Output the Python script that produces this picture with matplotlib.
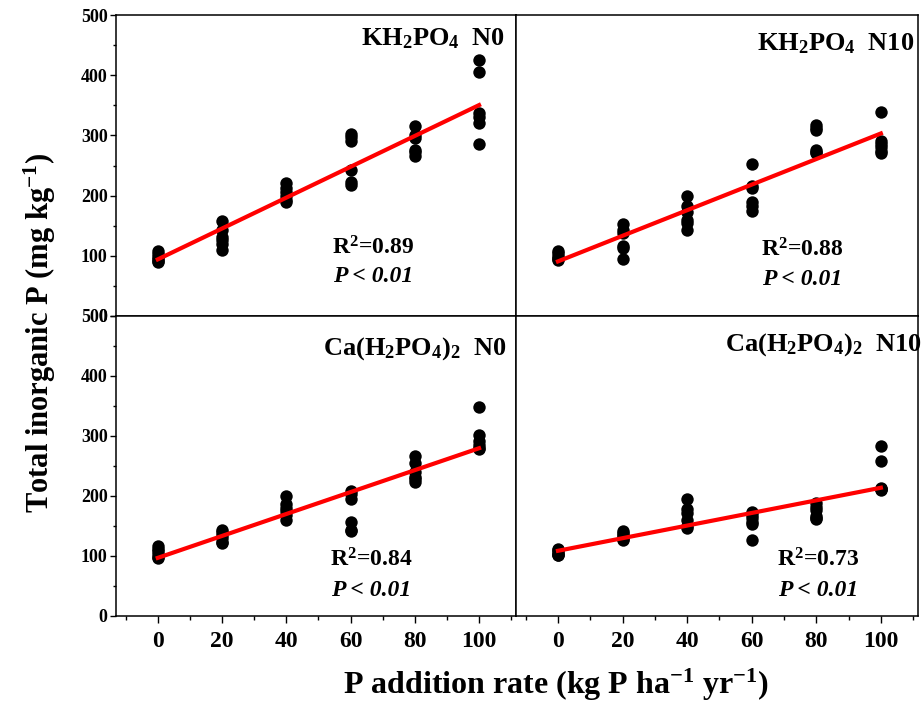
import numpy as np
import matplotlib
matplotlib.use("Agg")
import matplotlib.pyplot as plt
from matplotlib.ticker import MultipleLocator

plt.rcParams['font.family'] = ['Liberation Serif', 'DejaVu Serif']
plt.rcParams['font.weight'] = 'bold'
plt.rcParams['mathtext.fontset'] = 'custom'
plt.rcParams['mathtext.rm'] = 'Liberation Serif:bold'
plt.rcParams['mathtext.bf'] = 'Liberation Serif:bold'
plt.rcParams['mathtext.it'] = 'Liberation Serif:bold:italic'
plt.rcParams['mathtext.default'] = 'rm'

# P addition rates (kg P / ha / yr), 6 replicates each
rates = [0, 20, 40, 60, 80, 100]

kh_n0 = [
    [108, 103, 98, 95, 91, 90],
    [158, 143, 131, 126, 120, 110],
    [221, 213, 206, 199, 193, 190],
    [302, 298, 291, 243, 222, 218],
    [316, 300, 295, 276, 272, 265],
    [426, 405, 338, 330, 321, 286],
]
kh_n10 = [
    [108, 104, 100, 97, 95, 93],
    [152, 143, 138, 116, 113, 95],
    [200, 183, 172, 160, 155, 143],
    [252, 216, 212, 190, 182, 175],
    [317, 313, 309, 276, 273, 271],
    [339, 290, 285, 280, 274, 270],
]
ca_n0 = [
    [117, 112, 108, 104, 99, 96],
    [144, 140, 135, 130, 124, 121],
    [200, 187, 180, 175, 168, 160],
    [208, 203, 195, 156, 143, 142],
    [266, 255, 240, 232, 228, 224],
    [348, 302, 292, 285, 280, 278],
]
ca_n10 = [
    [112, 110, 106, 104, 102, 101],
    [142, 139, 135, 131, 128, 126],
    [195, 178, 172, 160, 150, 146],
    [174, 168, 163, 157, 153, 126],
    [188, 182, 176, 167, 164, 162],
    [283, 258, 213, 212, 211, 210],
]

titles = [r"KH$_2$PO$_4$  N0", r"KH$_2$PO$_4$  N10",
          r"Ca(H$_2$PO$_4$)$_2$  N0", r"Ca(H$_2$PO$_4$)$_2$  N10"]
r2_labels = ["0.89", "0.88", "0.84", "0.73"]
panels = [kh_n0, kh_n10, ca_n0, ca_n10]

W, H = 923, 706
fig = plt.figure(figsize=(W / 100, H / 100), dpi=100)

# axes boxes in pixels: left, top, right, bottom
boxes = [(116, 15, 516, 316), (516, 15, 918, 316),
         (116, 316, 516, 616), (516, 316, 918, 616)]
# text placements in data coords
title_pos = [(108, 450), (110.5, 442), (108.5, 435), (112.5, 443)]
stat_pos = [(67, 113, 65), (75.5, 110, 60), (66.5, 93, 43), (80.5, 93, 43)]

for i, (data, box) in enumerate(zip(panels, boxes)):
    l, t, r, b = box
    ax = fig.add_axes([l / W, (H - b) / H, (r - l) / W, (b - t) / H])
    xs = np.repeat(rates, [len(g) for g in data])
    ys = np.concatenate(data)
    ax.scatter(xs, ys, s=80, color='black', zorder=3, linewidths=0)
    k, c = np.polyfit(xs, ys, 1)
    xl = np.array([rates[0], rates[-1]])
    ax.plot(xl, k * xl + c, color='red', lw=3.0, zorder=4)

    ax.set_xlim(-13, 111.5)
    ax.set_ylim(0, 500)
    ax.xaxis.set_major_locator(MultipleLocator(20))
    ax.xaxis.set_minor_locator(MultipleLocator(10))
    ax.yaxis.set_major_locator(MultipleLocator(100))
    ax.yaxis.set_minor_locator(MultipleLocator(50))
    ax.tick_params(axis='y', which='major', length=4, width=1, labelsize=13, pad=2)
    ax.tick_params(axis='y', which='minor', length=2.5, width=1)
    ax.tick_params(axis='x', which='major', length=5, width=1, labelsize=17, pad=6)
    ax.tick_params(axis='x', which='minor', length=3, width=1)
    for s in ax.spines.values():
        s.set_linewidth(1.1)
    if i % 2 == 1:
        ax.tick_params(axis='y', which='both', left=False, labelleft=False)
    if i < 2:
        ax.tick_params(axis='x', which='both', bottom=False, labelbottom=False)
    for lab in ax.get_xticklabels() + ax.get_yticklabels():
        lab.set_fontweight('bold')

    tx, ty = title_pos[i]
    ax.text(tx, ty, titles[i], fontsize=19, ha='right', va='baseline')
    sx, sy1, sy2 = stat_pos[i]
    ax.text(sx, sy1, "R$^2$=" + r2_labels[i], fontsize=17, ha='center', va='center')
    ax.text(sx, sy2, "P < 0.01", fontsize=17, ha='center', va='center',
            fontstyle='italic', fontweight='bold')

fig.text(40 / W, (H - 333) / H, "Total inorganic P (mg kg$^{-1}$)", rotation=90,
         fontsize=22, ha='center', va='center')
fig.text(556 / W, (H - 685) / H, "P addition rate (kg P ha$^{-1}$ yr$^{-1}$)",
         fontsize=23, ha='center', va='center')

fig.savefig("out.png", dpi=100)
